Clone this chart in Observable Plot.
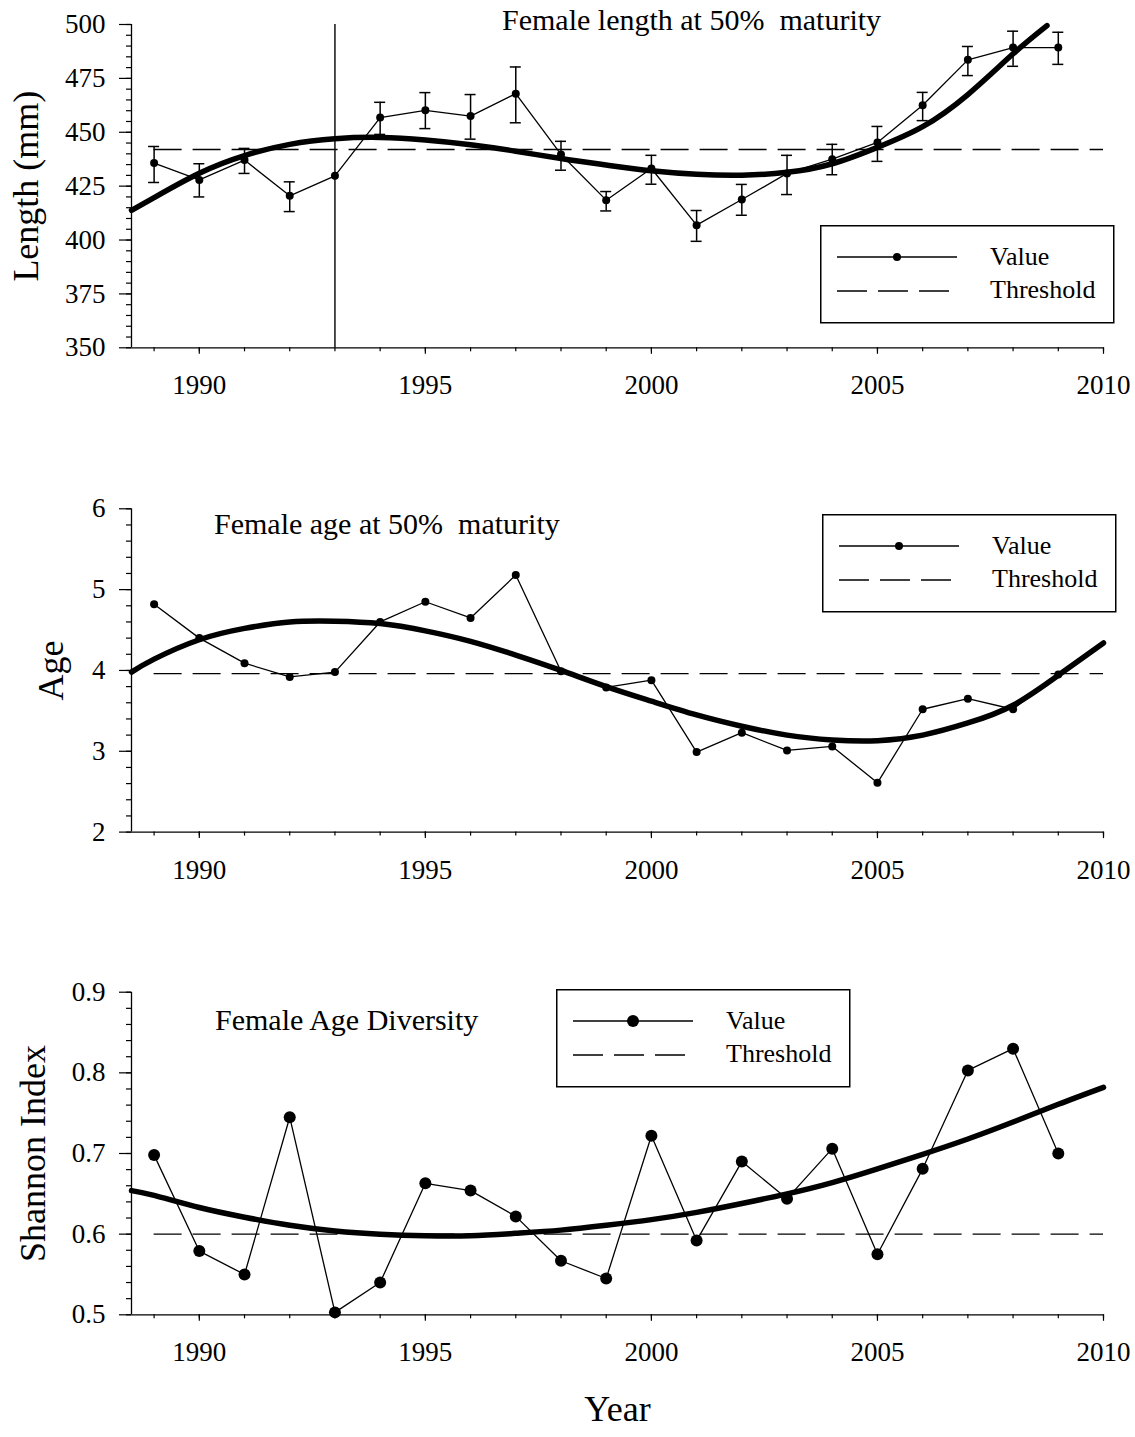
<!DOCTYPE html>
<html><head><meta charset="utf-8">
<script src="https://cdn.jsdelivr.net/npm/d3@7"></script>
<script src="https://cdn.jsdelivr.net/npm/@observablehq/plot@0.6"></script>
<style>
html,body{margin:0;padding:0;background:#fff;}
#wrap{position:relative;width:1135px;height:1437px;font-family:"Liberation Serif","Times New Roman",serif;color:#000;overflow:hidden;}
#wrap svg.panel{display:block;}
.title{position:absolute;font-size:30px;line-height:1;white-space:pre;}
.legend{position:absolute;}
</style></head><body><div id="wrap"></div>
<script>
// ---------- data ----------
const years = [1989,1990,1991,1992,1993,1994,1995,1996,1997,1998,1999,2000,2001,2002,2003,2004,2005,2006,2007,2008,2009];

const lengthValue = [435.7,427.9,437.1,420.5,429.8,456.8,460.2,457.5,467.9,439.7,418.5,433.2,406.9,418.8,430.9,437.5,445.3,462.5,483.6,489.3,489.3];
const lengthHigh  = [443.4,435.4,442.5,427.0,null,463.9,468.4,467.5,480.3,445.8,422.5,439.3,413.7,425.8,439.3,444.4,452.7,468.5,489.8,496.9,496.4];
const lengthLow   = [426.7,420.0,430.9,413.2,null,449.0,451.7,446.8,454.4,432.4,413.5,425.9,399.4,411.5,421.1,430.3,436.5,455.4,476.3,480.6,481.5];
const lengthThreshold = 442;
const lengthCurveYears = [1988.5,1989,1990,1991,1992,1993,1994,1995,1996,1997,1998,1999,2000,2001,2002,2003,2004,2005,2006,2007,2008,2008.75];
const lengthCurve = [413.8,419.7,431.0,439.2,444.4,447.0,447.6,446.4,444.2,441.2,437.8,434.8,432.1,430.5,430.1,431.4,435.4,443.0,452.6,467.5,486.4,499.5];
const markerYear = 1993;

const ageValue = [4.82,4.40,4.09,3.92,3.98,4.60,4.85,4.65,5.18,3.99,3.79,3.88,2.99,3.23,3.01,3.06,2.61,3.52,3.65,3.52,3.95];
const ageThreshold = 3.96;
const curveYears = [1988.5,1989,1990,1991,1992,1993,1994,1995,1996,1997,1998,1999,2000,2001,2002,2003,2004,2005,2006,2007,2008,2009,2010];
const ageCurve = [3.98,4.14,4.38,4.52,4.60,4.61,4.58,4.49,4.36,4.19,4.00,3.80,3.62,3.45,3.31,3.20,3.14,3.13,3.20,3.35,3.57,3.94,4.34];

const shannonValue = [0.698,0.579,0.550,0.745,0.503,0.540,0.663,0.654,0.622,0.567,0.545,0.722,0.592,0.690,0.644,0.706,0.575,0.681,0.803,0.830,0.700];
const shannonThreshold = 0.6;
const shannonCurve = [0.654,0.648,0.633,0.621,0.611,0.604,0.600,0.598,0.598,0.601,0.605,0.611,0.618,0.627,0.638,0.650,0.664,0.681,0.699,0.718,0.739,0.761,0.782];

const thresholdSpan = [1989, 2010];
const xDomain = [1988.5, 2010];

// tick labels
const yearTicks = [1990,1995,2000,2005,2010];
const yearMinorTicks = [1989,1990,1991,1992,1993,1994,1995,1996,1997,1998,1999,2000,2001,2002,2003,2004,2005,2006,2007,2008,2009,2010];
const lengthTicks = [350,375,400,425,450,475,500];
const lengthMinorTicks = [350,355,360,365,370,375,380,385,390,395,400,405,410,415,420,425,430,435,440,445,450,455,460,465,470,475,480,485,490,495,500];
const ageTicks = [2,3,4,5,6];
const ageMinorTicks = [2,2.2,2.4,2.6,2.8,3,3.2,3.4,3.6,3.8,4,4.2,4.4,4.6,4.8,5,5.2,5.4,5.6,5.8,6];
const shannonTicks = [0.5,0.6,0.7,0.8,0.9];
const shannonMinorTicks = [0.5,0.52,0.54,0.56,0.58,0.6,0.62,0.64,0.66,0.68,0.7,0.72,0.74,0.76,0.78,0.8,0.82,0.84,0.86,0.88,0.9];

// ---------- build ----------
const wrap = document.getElementById("wrap");
const FONT = "Liberation Serif, Times New Roman, serif";

function rows(vals, extra) {
  return years.map((yr, i) => ({year: yr, v: vals[i], ...(extra ? extra(i) : {})}));
}
function curveRows(xs, vs) { return xs.map((x, i) => ({year: x, v: vs[i]})); }

function panel(cfg) {
  const valueData = rows(cfg.values, cfg.extra);
  const marks = [
    Plot.ruleX([xDomain[0]], {strokeWidth: 1.3}),
    Plot.ruleY([cfg.yDomain[0]], {strokeWidth: 1.3}),
    Plot.axisY(cfg.minorTicks, {tickSize: 5, tickFormat: () => "", strokeWidth: 1.2}),
    Plot.axisY(cfg.ticks, {tickSize: 12, tickPadding: 14, fontSize: 27, tickFormat: cfg.fmt, strokeWidth: 1.2}),
    Plot.axisX(yearMinorTicks, {tickSize: 4, tickFormat: () => "", strokeWidth: 1.2}),
    Plot.axisX(yearTicks, {tickSize: 6.5, tickPadding: 21, fontSize: 27, tickFormat: d => String(d), strokeWidth: 1.2}),
    Plot.ruleY([{v: cfg.threshold, x1: thresholdSpan[0], x2: thresholdSpan[1]}], {y: "v", x1: "x1", x2: "x2", strokeWidth: 1.3, strokeDasharray: "28,11"}),
  ];
  if (cfg.marker) marks.push(Plot.ruleX([cfg.marker], {strokeWidth: 1.4}));
  marks.push(Plot.line(curveRows(cfg.curveX, cfg.curve), {x: "year", y: "v", curve: "natural", strokeWidth: 5.5}));
  if (cfg.errors) {
    const err = valueData.filter(d => d.lo != null);
    marks.push(Plot.ruleX(err, {x: "year", y1: "lo", y2: "hi", strokeWidth: 1.5}));
    marks.push(Plot.ruleY(err, {y: "hi", x1: "year", x2: "year", insetLeft: -5.5, insetRight: -5.5, strokeWidth: 1.5}));
    marks.push(Plot.ruleY(err, {y: "lo", x1: "year", x2: "year", insetLeft: -5.5, insetRight: -5.5, strokeWidth: 1.5}));
  }
  marks.push(Plot.line(valueData, {x: "year", y: "v", strokeWidth: 1.3}));
  marks.push(Plot.dot(valueData, {x: "year", y: "v", r: cfg.r, fill: "black", stroke: "none"}));
  marks.push(Plot.text([cfg.yLabel], {text: d => d, frameAnchor: "left", textAnchor: "middle", rotate: -90, dx: cfg.labelDx, fontSize: 36}));
  if (cfg.xLabel) marks.push(Plot.text([cfg.xLabel], {text: d => d, frameAnchor: "bottom", textAnchor: "middle", dy: 106, fontSize: 36}));
  const svg = Plot.plot({
    width: 1135, height: cfg.height,
    marginLeft: 131, marginRight: 32, marginTop: cfg.mt, marginBottom: cfg.mb,
    x: {domain: xDomain, label: null},
    y: {domain: cfg.yDomain, label: null},
    style: {fontFamily: FONT, fontSize: "27px", color: "black", background: "white", overflow: "visible"},
    marks
  });
  svg.classList.add("panel");
  wrap.appendChild(svg);
}

panel({
  values: lengthValue, extra: i => ({hi: lengthHigh[i], lo: lengthLow[i]}), errors: true,
  threshold: lengthThreshold, curveX: lengthCurveYears, curve: lengthCurve, marker: markerYear,
  yDomain: [350, 500], ticks: lengthTicks, minorTicks: lengthMinorTicks, fmt: d => String(d),
  height: 480, mt: 24, mb: 132.7, r: 4, yLabel: "Length (mm)", labelDx: -105
});
panel({
  values: ageValue, threshold: ageThreshold, curveX: curveYears, curve: ageCurve,
  yDomain: [2, 6], ticks: ageTicks, minorTicks: ageMinorTicks, fmt: d => String(d),
  height: 485, mt: 28.3, mb: 133.4, r: 4, yLabel: "Age", labelDx: -80.5
});
panel({
  values: shannonValue, threshold: shannonThreshold, curveX: curveYears, curve: shannonCurve,
  yDomain: [0.5, 0.9], ticks: shannonTicks, minorTicks: shannonMinorTicks, fmt: d3.format(".1f"),
  height: 472, mt: 26.7, mb: 122.7, r: 6, yLabel: "Shannon Index", labelDx: -98, xLabel: "Year"
});

// ---------- titles ----------
const titles = [
  {text: "Female length at 50%  maturity", left: 502, top: 5},
  {text: "Female age at 50%  maturity", left: 214, top: 509},
  {text: "Female Age Diversity", left: 215, top: 1005}
];
titles.forEach(t => {
  const d = document.createElement("div");
  d.className = "title";
  d.style.left = t.left + "px"; d.style.top = t.top + "px";
  d.textContent = t.text;
  wrap.appendChild(d);
});

// ---------- legends ----------
const legendItems = ["Value", "Threshold"];
function legend(left, top, r) {
  const div = d3.select(wrap).append("div").attr("class", "legend")
    .style("left", left + "px").style("top", top + "px");
  const s = div.append("svg").attr("width", 296).attr("height", 100)
    .style("font-family", FONT).style("display", "block");
  s.append("rect").attr("x", 0.75).attr("y", 0.75).attr("width", 293).attr("height", 97)
    .attr("fill", "white").attr("stroke", "black").attr("stroke-width", 1.5);
  s.append("line").attr("x1", 17).attr("x2", 137).attr("y1", 32).attr("y2", 32)
    .attr("stroke", "black").attr("stroke-width", 1.3);
  s.append("circle").attr("cx", 77).attr("cy", 32).attr("r", r).attr("fill", "black");
  s.append("line").attr("x1", 17).attr("x2", 129).attr("y1", 66).attr("y2", 66)
    .attr("stroke", "black").attr("stroke-width", 1.3).attr("stroke-dasharray", "30,11");
  s.append("text").attr("x", 170).attr("y", 40).attr("font-size", 26).text(legendItems[0]);
  s.append("text").attr("x", 170).attr("y", 73).attr("font-size", 26).text(legendItems[1]);
}
legend(820, 225, 4);
legend(822, 514, 4);
legend(556, 989, 6);
</script></body></html>
